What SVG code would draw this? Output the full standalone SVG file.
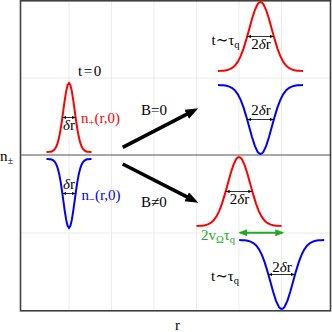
<svg xmlns="http://www.w3.org/2000/svg" xmlns:xlink="http://www.w3.org/1999/xlink" width="332" height="332" viewBox="0 0 332 332">
<style>
text{font-family:"Liberation Serif","DejaVu Serif",serif;font-size:15px;fill:#000}
.grid{stroke:#ebebeb;stroke-width:1;fill:none}
.frame{stroke:#404040;stroke-width:1.6;fill:none}
.axis{stroke:#505050;stroke-width:1;fill:none}
.red{stroke:#ff0000;stroke-width:2;fill:none}
.blue{stroke:#0000ff;stroke-width:2;fill:none}
.dim{stroke:#000;stroke-width:0.8;fill:none;marker-start:url(#sa);marker-end:url(#sa)}
.big{stroke:#000;stroke-width:3.6;fill:none;marker-end:url(#ba)}
.grn{stroke:#22aa22;stroke-width:2;fill:none;marker-start:url(#ga);marker-end:url(#ga)}
.r{fill:#ff0000}.b{fill:#0000ff}.g{fill:#22aa22}
.sub{font-size:10.5px}
</style>
<defs>
<marker id="sa" markerUnits="userSpaceOnUse" markerWidth="5" markerHeight="4" refX="4" refY="1.6" orient="auto-start-reverse"><path d="M0,0 L4,1.6 L0,3.2 z" fill="#000"/></marker>
<marker id="ba" markerUnits="userSpaceOnUse" markerWidth="14" markerHeight="11" refX="3" refY="5" orient="auto"><path d="M0,0 L13,5 L0,10 z" fill="#000"/></marker>
<marker id="ga" markerUnits="userSpaceOnUse" markerWidth="10" markerHeight="8" refX="7" refY="3.5" orient="auto-start-reverse"><path d="M0,0 L9,3.5 L0,7 z" fill="#22aa22"/></marker>
<polyline id="gR" points="-42.5,-0.06 -39.67,-0.15 -36.83,-0.35 -34,-0.77 -31.17,-1.57 -28.33,-3.03 -25.5,-5.49 -22.67,-9.34 -19.83,-14.92 -17,-22.4 -14.17,-31.59 -11.33,-41.85 -8.5,-52.08 -5.67,-60.89 -2.83,-66.87 -1.42,-68.46 0,-69 1.42,-68.46 2.83,-66.87 5.67,-60.89 8.5,-52.08 11.33,-41.85 14.17,-31.59 17,-22.4 19.83,-14.92 22.67,-9.34 25.5,-5.49 28.33,-3.03 31.17,-1.57 34,-0.77 36.83,-0.35 39.67,-0.15 42.5,-0.06"/>
<polyline id="gL" points="-22.5,-0.02 -21.09,-0.06 -19.69,-0.15 -18.28,-0.35 -16.88,-0.77 -15.47,-1.57 -14.06,-3.03 -12.66,-5.49 -11.25,-9.34 -9.84,-14.92 -8.44,-22.4 -7.03,-31.59 -5.63,-41.85 -4.22,-52.08 -2.81,-60.89 -1.41,-66.87 0,-69 1.41,-66.87 2.81,-60.89 4.22,-52.08 5.63,-41.85 7.03,-31.59 8.44,-22.4 9.84,-14.92 11.25,-9.34 12.66,-5.49 14.06,-3.03 15.47,-1.57 16.88,-0.77 18.28,-0.35 19.69,-0.15 21.09,-0.06 22.5,-0.02"/>
</defs>
<rect width="332" height="332" fill="#fff"/>
<g id="grid">
<path class="grid" d="M69,0V310 M111.5,0V310 M154,0V310 M196.5,0V310 M239,0V310 M281.5,0V310 M20,78H330 M20,233H330"/>
</g>
<g id="axes">
<path class="axis" d="M20,155H330"/>
<rect class="frame" x="20.5" y="0.8" width="310" height="310"/>
<text x="0" y="161">n<tspan class="sub" dy="3">±</tspan></text>
<text x="175" y="330">r</text>
</g>
<g id="initial-plus">
<use xlink:href="#gL" class="red" transform="translate(69,152)"/>
<path class="dim" d="M62.4,117.5H75.6"/>
<text x="69" y="130" text-anchor="middle"><tspan font-style="italic">δ</tspan>r</text>
<text x="81" y="123" class="r">n<tspan class="sub" dy="3">+</tspan><tspan dy="-3">(r,0)</tspan></text>
<text x="78" y="76">t<tspan dx="1.5">=</tspan><tspan dx="1.5">0</tspan></text>
</g>
<g id="initial-minus">
<use xlink:href="#gL" class="blue" transform="translate(69,159) scale(1,-1)"/>
<path class="dim" d="M62.4,193.5H75.6"/>
<text x="69" y="189" text-anchor="middle"><tspan font-style="italic">δ</tspan>r</text>
<text x="81.5" y="199.5" class="b">n<tspan class="sub" dy="3">−</tspan><tspan dy="-3">(r,0)</tspan></text>
</g>
<g id="connectors">
<path class="big" d="M122.7,147.3L189.4,112.9"/>
<path class="big" d="M122.7,164L189.4,198.1"/>
<text x="141" y="115">B=0</text>
<text x="141" y="207">B≠0</text>
</g>
<g id="b0-result">
<use xlink:href="#gR" class="red" transform="translate(260.5,71)"/>
<use xlink:href="#gR" class="blue" transform="translate(260.5,85) scale(1,-1)"/>
<path class="dim" d="M247.2,36.5H273.8"/>
<path class="dim" d="M247.2,119.5H273.8"/>
<text x="261" y="49" text-anchor="middle">2<tspan font-style="italic">δ</tspan>r</text>
<text x="261" y="115" text-anchor="middle">2<tspan font-style="italic">δ</tspan>r</text>
<text x="211.5" y="45">t∼τ<tspan class="sub" dy="3">q</tspan></text>
</g>
<g id="b1-result">
<use xlink:href="#gR" class="red" transform="translate(239,226)"/>
<use xlink:href="#gR" class="blue" transform="translate(281.7,240) scale(1,-1)"/>
<path class="dim" d="M225.7,191.5H252.3"/>
<path class="dim" d="M268.4,274.5H295"/>
<text x="239.5" y="204" text-anchor="middle">2<tspan font-style="italic">δ</tspan>r</text>
<text x="282" y="271.5" text-anchor="middle">2<tspan font-style="italic">δ</tspan>r</text>
<path class="grn" d="M240.3,232.7H282.3"/>
<text x="201" y="240" class="g">2v<tspan class="sub" dy="3">Ω</tspan><tspan dy="-3">τ</tspan><tspan class="sub" dy="3">q</tspan></text>
<text x="211" y="281">t∼τ<tspan class="sub" dy="3">q</tspan></text>
</g>
</svg>
